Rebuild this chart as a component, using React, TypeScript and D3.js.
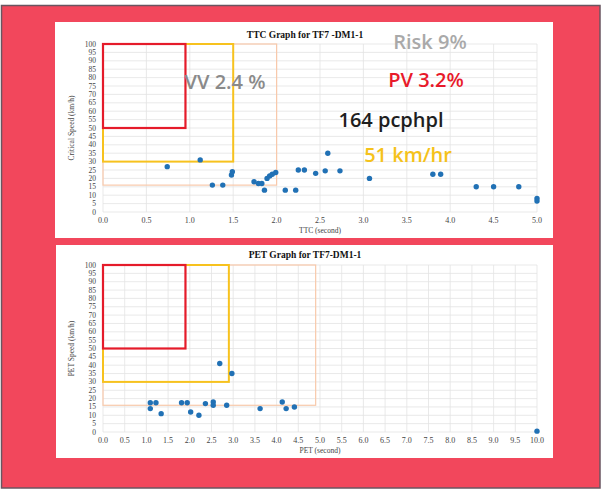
import React from "react";
import * as d3 from "d3";

// ---- Data ----
const ttcX = [0.74, 1.12, 1.26, 1.38, 1.48, 1.49, 1.74, 1.79, 1.83, 1.86, 1.89, 1.92, 1.95, 1.99, 2.1, 2.22, 2.25, 2.32, 2.45, 2.56, 2.59, 2.73, 3.07, 3.8, 3.89, 4.3, 4.5, 4.79, 5.0, 5.0];
const ttcSpeed = [27, 31, 16, 16, 22, 24, 18, 17, 17, 13, 20, 21.5, 22.5, 23.5, 13, 13, 25, 25, 23, 24.5, 35, 24.5, 20, 22.5, 22.5, 15, 15, 15, 8, 6.5];

const petX = [1.09, 1.09, 1.22, 1.34, 1.81, 1.94, 2.02, 2.21, 2.36, 2.54, 2.54, 2.69, 2.85, 2.97, 3.62, 4.13, 4.22, 4.41, 10.0];
const petSpeed = [17.5, 14, 17.5, 11, 17.5, 17.5, 12, 10, 17, 18, 16, 41, 16, 35, 14, 18, 14, 15, 0.5];

// boxes: xMin = 0, yMax = 100
const ttcBoxes = [
  { name: "orange", xMax: 2.0, yMin: 16 },
  { name: "yellow", xMax: 1.5, yMin: 30 },
  { name: "red", xMax: 0.95, yMin: 50 },
];
const petBoxes = [
  { name: "orange", xMax: 4.9, yMin: 16 },
  { name: "yellow", xMax: 2.9, yMin: 30 },
  { name: "red", xMax: 1.9, yMin: 50 },
];

const speedTicks = d3.range(0, 101, 5);
const ttcTicks = d3.range(0, 5.01, 0.5);
const petTicks = d3.range(0, 10.01, 0.5);

const annotations = [
  { text: "Risk 9%", color: "#a9a9a9", x: 430, y: 49 },
  { text: "PV 3.2%", color: "#e81a2a", x: 426, y: 87 },
  { text: "164 pcphpl", color: "#1e1e1e", x: 391, y: 127 },
  { text: "51 km/hr", color: "#f5c21b", x: 408, y: 162 },
  { text: "VV 2.4 %", color: "#8a8a8a", x: 225, y: 89 },
];

const boxStyle: Record<string, { stroke: string; width: number }> = {
  orange: { stroke: "#f8c9ab", width: 1.2 },
  yellow: { stroke: "#f7c21e", width: 2 },
  red: { stroke: "#e51b2a", width: 2.2 },
};

type PanelProps = {
  title: string;
  xLabel: string;
  yLabel: string;
  xDomain: [number, number];
  xTicks: number[];
  xs: number[];
  ys: number[];
  boxes: { name: string; xMax: number; yMin: number }[];
  top: number;
  bottom: number;
  titleY: number;
};

function Panel(p: PanelProps) {
  const x = d3.scaleLinear().domain(p.xDomain).range([103, 537]);
  const y = d3.scaleLinear().domain([0, 100]).range([p.bottom, p.top]);
  const fmt = d3.format(".1f");
  const serif = "'Liberation Serif', 'DejaVu Serif', serif";
  return (
    <g>
      {speedTicks.map((t) => (
        <line key={"h" + t} x1={x(p.xDomain[0])} x2={x(p.xDomain[1])} y1={y(t)} y2={y(t)} stroke="#e3e3e3" strokeWidth={0.8} />
      ))}
      {p.xTicks.map((t) => (
        <line key={"v" + t} x1={x(t)} x2={x(t)} y1={y(0)} y2={y(100)} stroke="#e3e3e3" strokeWidth={0.8} />
      ))}
      {p.boxes.map((b) => (
        <rect
          key={b.name}
          x={x(0)}
          y={y(100)}
          width={x(b.xMax) - x(0)}
          height={y(b.yMin) - y(100)}
          fill="none"
          stroke={boxStyle[b.name].stroke}
          strokeWidth={boxStyle[b.name].width}
        />
      ))}
      {speedTicks.map((t) => (
        <text key={"yl" + t} x={96} y={y(t) + 2.5} textAnchor="end" fontFamily={serif} fontSize={7.5} fill="#444">
          {t}
        </text>
      ))}
      {p.xTicks.map((t) => (
        <text key={"xl" + t} x={x(t)} y={p.bottom + 11} textAnchor="middle" fontFamily={serif} fontSize={8} fill="#444">
          {fmt(t)}
        </text>
      ))}
      <text x={320} y={p.bottom + 21} textAnchor="middle" fontFamily={serif} fontSize={7.5} fill="#444">
        {p.xLabel}
      </text>
      <text
        transform={`translate(74,${(p.top + p.bottom) / 2}) rotate(-90)`}
        textAnchor="middle"
        fontFamily={serif}
        fontSize={7.5}
        fill="#444"
      >
        {p.yLabel}
      </text>
      <text x={305} y={p.titleY} textAnchor="middle" fontFamily={serif} fontWeight="bold" fontSize={9.5} fill="#111">
        {p.title}
      </text>
      {p.xs.map((v, i) => (
        <circle key={"pt" + i} cx={x(v)} cy={y(p.ys[i])} r={2.7} fill="#2171b5" />
      ))}
    </g>
  );
}

export default function App() {
  return (
    <svg
      width={603}
      height={492}
      style={{ position: "absolute", left: 0, top: 0, background: "#fff" }}
    >
      <rect x={1.5} y={5.5} width={598.5} height={482.5} fill="#f2475c" stroke="#6a5560" strokeWidth={1.5} />
      <rect x={55} y={22} width={498} height={216} fill="#fff" />
      <rect x={56} y={245} width={497} height={213} fill="#fff" />
      <Panel
        title="TTC Graph for TF7 -DM1-1"
        xLabel="TTC (second)"
        yLabel="Critical Speed (km/h)"
        xDomain={[0, 5]}
        xTicks={ttcTicks}
        xs={ttcX}
        ys={ttcSpeed}
        boxes={ttcBoxes}
        top={44}
        bottom={212}
        titleY={38}
      />
      <Panel
        title="PET Graph for  TF7-DM1-1"
        xLabel="PET (second)"
        yLabel="PET Speed (km/h)"
        xDomain={[0, 10]}
        xTicks={petTicks}
        xs={petX}
        ys={petSpeed}
        boxes={petBoxes}
        top={265}
        bottom={432}
        titleY={258}
      />
      {annotations.map((a) => (
        <text
          key={a.text}
          x={a.x}
          y={a.y}
          textAnchor="middle"
          fontFamily="'Open Sans', 'Noto Sans', sans-serif"
          fontWeight={600}
          fontSize={20}
          fill={a.color}
        >
          {a.text}
        </text>
      ))}
    </svg>
  );
}
